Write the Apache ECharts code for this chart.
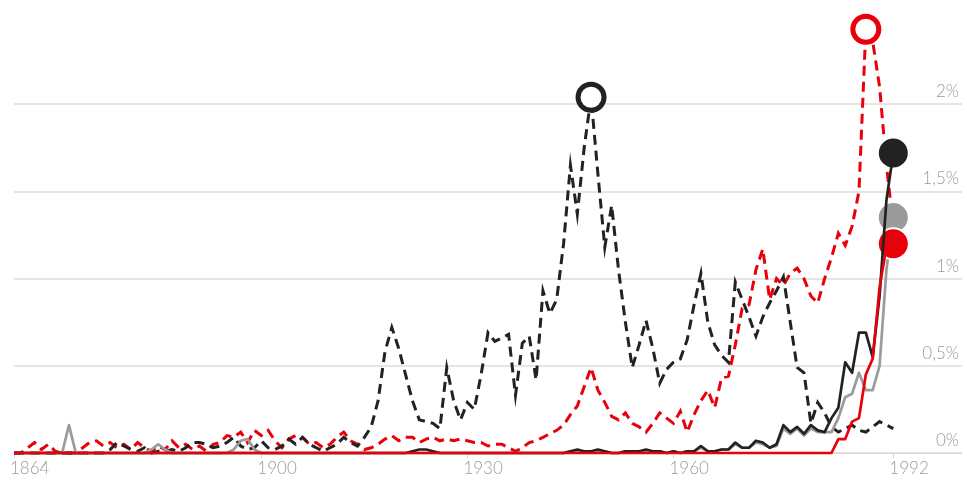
<!DOCTYPE html>
<html>
<head>
<meta charset="utf-8">
<script src="https://cdn.jsdelivr.net/npm/echarts@6/dist/echarts.min.js"></script>
<style>
html,body{margin:0;padding:0;background:#fff;}
#chart{width:967px;height:482px;}
</style>
</head>
<body>
<div id="chart"></div>
<script>
// Years 1864..1992 (one value per year)
const firstYear = 1864;
const lastYear = 1992;
const years = [];
for (let y = firstYear; y <= lastYear; y++) years.push(y);

const xTickLabels = [1864, 1900, 1930, 1960, 1992];
const yTickLabels = [0, 0.5, 1, 1.5, 2];

// Red dashed series (%)
const redDashed = [
  0, 0, 0.03, 0.06, 0.02, 0.05, 0.01, 0, 0, 0,
  0.03, 0.06, 0.07, 0.04, 0.06, 0.03, 0.05, 0.02, 0.06, 0.03,
  0.01, 0.04, 0.02, 0.07, 0.03, 0.05, 0.02, 0.04, 0.01, 0.05,
  0.06, 0.1, 0.09, 0.12, 0.06, 0.13, 0.1, 0.13, 0.07, 0.03,
  0.08, 0.1, 0.09, 0.05, 0.06, 0.03, 0.05, 0.09, 0.12, 0.07,
  0.05, 0.02, 0.03, 0.05, 0.08, 0.1, 0.07, 0.09, 0.09, 0.06,
  0.08, 0.09, 0.07, 0.08, 0.07, 0.08, 0.07, 0.06, 0.06, 0.04,
  0.05, 0.05, 0.03, 0.01, 0.03, 0.06, 0.07, 0.09, 0.11, 0.13,
  0.16, 0.22, 0.27, 0.38, 0.49, 0.36, 0.29, 0.21, 0.19, 0.23,
  0.17, 0.15, 0.12, 0.17, 0.23, 0.2, 0.17, 0.24, 0.12, 0.22,
  0.3, 0.36, 0.26, 0.43, 0.44, 0.62, 0.83, 0.85, 1.05, 1.17,
  0.88, 1.0, 0.96, 1.03, 1.06, 1.0, 0.9, 0.86, 1.0, 1.12,
  1.26, 1.19, 1.3, 1.5, 2.43, 2.36, 2.1, 1.65, 1.3
];

// Black dashed series (%)
const blackDashed = [
  0, 0, 0, 0, 0, 0, 0, 0, 0, 0,
  0, 0, 0, 0, 0.02, 0.06, 0.04, 0.02, 0.01, 0.03,
  0, 0.01, 0.01, 0.02, 0.01, 0.03, 0.06, 0.06, 0.05, 0.03,
  0.04, 0.06, 0.09, 0.04, 0.02, 0.03, 0.07, 0.03, 0.02, 0.04,
  0.08, 0.05, 0.09, 0.05, 0.03, 0.01, 0.03, 0.05, 0.09, 0.06,
  0.04, 0.09, 0.15, 0.3, 0.58, 0.72, 0.6, 0.45, 0.3, 0.19,
  0.18, 0.17, 0.14, 0.49, 0.3, 0.19, 0.29, 0.25, 0.45, 0.69,
  0.64, 0.66, 0.68, 0.33, 0.63, 0.67, 0.42, 0.93, 0.8, 0.88,
  1.2, 1.65, 1.37, 1.75, 2.04, 1.6, 1.18, 1.42, 1.05, 0.75,
  0.49, 0.62, 0.76, 0.6, 0.4, 0.48, 0.52, 0.54, 0.65, 0.85,
  1.03, 0.75, 0.62, 0.56, 0.52, 0.98, 0.88, 0.78, 0.67, 0.78,
  0.86, 0.93, 1.01, 0.75, 0.49, 0.46, 0.17, 0.29, 0.23, 0.15,
  0.12, 0.14, 0.16, 0.13, 0.12, 0.15, 0.18, 0.16, 0.14
];

// Black solid series (%)
const blackSolid = [
  0, 0, 0, 0, 0, 0, 0, 0, 0, 0,
  0, 0, 0, 0, 0, 0, 0, 0, 0, 0,
  0, 0, 0, 0, 0, 0, 0, 0, 0, 0,
  0, 0, 0, 0, 0, 0, 0, 0, 0, 0,
  0, 0, 0, 0, 0, 0, 0, 0, 0, 0,
  0, 0, 0, 0, 0, 0, 0, 0, 0.01, 0.02,
  0.02, 0.01, 0, 0, 0, 0, 0, 0, 0, 0,
  0, 0, 0, 0, 0, 0, 0, 0, 0, 0,
  0, 0.01, 0.02, 0.01, 0.01, 0.02, 0.01, 0, 0, 0.01,
  0.01, 0.01, 0.02, 0.01, 0.01, 0, 0.01, 0, 0.01, 0.01,
  0.04, 0.01, 0.01, 0.02, 0.02, 0.06, 0.03, 0.03, 0.07, 0.06,
  0.03, 0.05, 0.16, 0.12, 0.15, 0.11, 0.16, 0.13, 0.12, 0.2,
  0.26, 0.52, 0.46, 0.69, 0.69, 0.55, 0.9, 1.45, 1.72
];

// Grey solid series (%)
const greySolid = [
  0, 0, 0, 0, 0, 0, 0, 0, 0.16, 0,
  0, 0, 0, 0, 0, 0, 0, 0, 0, 0,
  0.02, 0.05, 0.02, 0, 0, 0, 0, 0, 0, 0,
  0, 0, 0.02, 0.07, 0.08, 0.02, 0, 0, 0, 0,
  0, 0, 0, 0, 0, 0, 0, 0, 0, 0,
  0, 0, 0, 0, 0, 0, 0, 0, 0, 0,
  0, 0, 0, 0, 0, 0, 0, 0, 0, 0,
  0, 0, 0, 0, 0, 0, 0, 0, 0, 0,
  0, 0.01, 0.01, 0.01, 0.01, 0.01, 0.01, 0, 0, 0.01,
  0.01, 0.01, 0.01, 0.01, 0.01, 0, 0.01, 0, 0.01, 0.01,
  0.03, 0.01, 0.01, 0.02, 0.02, 0.05, 0.03, 0.03, 0.06, 0.05,
  0.03, 0.04, 0.14, 0.11, 0.14, 0.1, 0.14, 0.12, 0.12, 0.12,
  0.2, 0.32, 0.34, 0.46, 0.36, 0.36, 0.5, 1.05, 1.35
];

// Red solid series (%)
const redSolid = [
  0, 0, 0, 0, 0, 0, 0, 0, 0, 0,
  0, 0, 0, 0, 0, 0, 0, 0, 0, 0,
  0, 0, 0, 0, 0, 0, 0, 0, 0, 0,
  0, 0, 0, 0, 0, 0, 0, 0, 0, 0,
  0, 0, 0, 0, 0, 0, 0, 0, 0, 0,
  0, 0, 0, 0, 0, 0, 0, 0, 0, 0,
  0, 0, 0, 0, 0, 0, 0, 0, 0, 0,
  0, 0, 0, 0, 0, 0, 0, 0, 0, 0,
  0, 0, 0, 0, 0, 0, 0, 0, 0, 0,
  0, 0, 0, 0, 0, 0, 0, 0, 0, 0,
  0, 0, 0, 0, 0, 0, 0, 0, 0, 0,
  0, 0, 0, 0, 0, 0, 0, 0, 0, 0,
  0.08, 0.08, 0.18, 0.2, 0.45, 0.54, 0.95, 1.18, 1.2
];

const RED = '#e8000b';
const BLACK = '#222222';
const GREY = '#9b9b9b';
const FONT = 'Lato, "Open Sans", sans-serif';

function pairs(vals) { return years.map((y, i) => [y, vals[i]]); }

function dashedSeries(name, vals, color, z) {
  return {
    name, type: 'line', data: pairs(vals), showSymbol: false, clip: false, z,
    lineStyle: { color, width: 3, type: [10, 6], cap: 'butt', join: 'miter' },
    animation: false,
    markPoint: {
      symbol: 'circle', symbolSize: 26, animation: false,
      label: { show: false },
      itemStyle: { color: '#fff', borderColor: color, borderWidth: 5 },
      data: [{ type: 'max' }]
    }
  };
}
function solidSeries(name, vals, color, z) {
  return {
    name, type: 'line', data: pairs(vals), showSymbol: false, clip: false, z,
    lineStyle: { color, width: 2.7, join: 'round' },
    animation: false,
    markPoint: {
      symbol: 'circle', symbolSize: 31, animation: false,
      label: { show: false },
      itemStyle: { color, borderColor: '#fff', borderWidth: 2 },
      data: [{ type: 'max' }]
    }
  };
}

const chart = echarts.init(document.getElementById('chart'), null, { renderer: 'canvas' });
chart.setOption({
  animation: false,
  backgroundColor: '#fff',
  grid: { left: 14, right: 5, top: 17, bottom: 29, containLabel: false },
  xAxis: {
    type: 'value', min: 1864, max: 2002,
    splitLine: { show: false },
    axisLine: { show: true, lineStyle: { color: '#d8d8d8', width: 1 } },
    axisTick: { show: true, customValues: xTickLabels, length: 5, lineStyle: { color: '#d8d8d8' } },
    axisLabel: {
      customValues: xTickLabels, align: 'left', margin: 7,
      color: '#9a9a9a', fontSize: 17, fontFamily: FONT, fontWeight: 300,
      formatter: v => String(v), padding: [0, 0, 0, -4]
    }
  },
  yAxis: {
    type: 'value', position: 'right', min: 0, max: 2.5, interval: 0.5,
    axisLine: { show: false }, axisTick: { show: false },
    splitLine: { show: true, lineStyle: { color: ['#dcdcdc', '#dcdcdc', '#dcdcdc', '#dcdcdc', '#dcdcdc', 'rgba(0,0,0,0)'], width: 1.5 } },
    axisLabel: {
      inside: true, margin: 3, verticalAlign: 'bottom', padding: [0, 0, 4, 0],
      color: '#9a9a9a', fontSize: 17, fontFamily: FONT, fontWeight: 300,
      formatter: v => yTickLabels.indexOf(v) >= 0 ? String(v).replace('.', ',') + '%' : ''
    }
  },
  series: [
    dashedSeries('red dashed', redDashed, RED, 2),
    dashedSeries('black dashed', blackDashed, BLACK, 3),
    solidSeries('grey', greySolid, GREY, 4),
    solidSeries('black', blackSolid, BLACK, 5),
    solidSeries('red', redSolid, RED, 6)
  ]
});
</script>
</body>
</html>
